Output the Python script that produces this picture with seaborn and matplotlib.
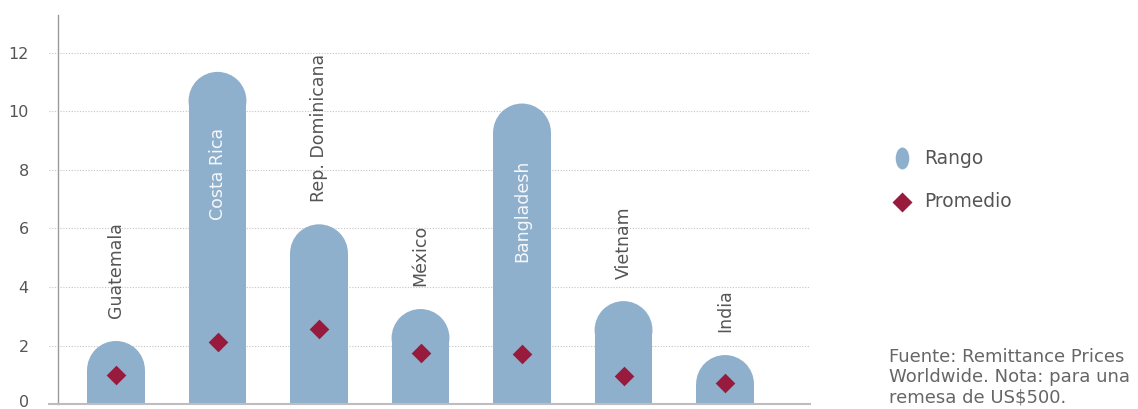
import matplotlib
matplotlib.use("Agg")
import matplotlib.pyplot as plt
import seaborn as sns
import pandas as pd
from matplotlib.patches import Ellipse
from matplotlib.lines import Line2D
from matplotlib.path import Path
from matplotlib.transforms import Affine2D, ScaledTranslation

# ---- data ----
paises = ["Guatemala", "Costa Rica", "Rep. Dominicana", "México", "Bangladesh", "Vietnam", "India"]
rango = [2.16, 11.34, 6.14, 3.25, 10.26, 3.52, 1.68]
promedio = [1.00, 2.13, 2.56, 1.76, 1.70, 0.96, 0.72]
yticks = [0, 2, 4, 6, 8, 10, 12]
leyenda = ["Rango", "Promedio"]
fuente = "Fuente: Remittance Prices\nWorldwide. Nota: para una\nremesa de US$500."

# ---- style ----
BAR = "#8fb0cc"
DIAM = "#981a3d"
TXT = "#555555"

sns.set_theme(style="white")
plt.rcParams["font.family"] = ["DejaVu Sans"]

df = pd.DataFrame({"pais": paises, "rango": rango, "promedio": promedio})

W, H = 1138, 409
fig = plt.figure(figsize=(W / 100, H / 100), dpi=100)
ax = fig.add_axes([49 / W, 1 - 404.3 / H, (810 - 49) / W, (404.3 - 15) / H])

sns.barplot(data=df, x="pais", y="rango", color=BAR, width=0.57, saturation=1,
            ax=ax, zorder=2, linewidth=0)
sns.stripplot(data=df, x="pais", y="promedio", jitter=False, marker="D", size=10,
              color=DIAM, linewidth=0, ax=ax, zorder=3)
ax.set_xlim(-0.66, 6.837)
ax.set_ylim(0, 13.28)

# rounded (pill) tops
xr = ax.get_xlim()
yr = ax.get_ylim()
px_x = ax.bbox.width / (xr[1] - xr[0])
px_y = ax.bbox.height / (yr[1] - yr[0])
for p in list(ax.patches):
    x0, w, h = p.get_x(), p.get_width(), p.get_height()
    r_px = w * px_x / 2
    ry = r_px / px_y
    p.set_height(h - ry)
    p.set_linewidth(0)
    ax.add_patch(Ellipse((x0 + w / 2, h - ry), w, 2 * ry, facecolor=BAR,
                         edgecolor="none", lw=0, zorder=2))

# country labels
for i, (name, v) in enumerate(zip(paises, rango)):
    if v > 9:
        ax.text(i, v - 1.9, name, rotation=90, ha="center", va="top",
                color="#f5f7fa", fontsize=12.5, zorder=4)
    else:
        ax.text(i, v + 0.77, name, rotation=90, ha="center", va="bottom",
                color=TXT, fontsize=12.5, zorder=4)

# axes styling
for s in ["top", "right"]:
    ax.spines[s].set_visible(False)
ax.spines["left"].set_position(("data", -0.571))
ax.spines["left"].set_color("#9a9a9a")
ax.spines["left"].set_linewidth(1)
ax.spines["bottom"].set_color("#bdbdbd")
ax.spines["bottom"].set_linewidth(1.5)
ax.set_yticks(yticks)
ax.yaxis.grid(True, linestyle=(0, (1, 1.5)), color="#c4c4c4", linewidth=0.8)
ax.set_axisbelow(True)
ax.tick_params(axis="y", length=0, pad=21, labelsize=11.5, labelcolor=TXT)
ax.tick_params(axis="x", length=0, labelbottom=False)
ax.set_xlabel("")
ax.set_ylabel("")
ax.set_xlim(-0.66, 6.837)
ax.set_ylim(0, 13.28)

# nudge the "0" label up slightly so it sits inside the canvas, as in the reference
lbl0 = ax.get_yticklabels()[0]
lbl0.set_transform(lbl0.get_transform() + ScaledTranslation(0, 3 / 72 * 0.72, fig.dpi_scale_trans))

# legend (drawn in figure coordinates)
oval = Path.unit_circle().transformed(Affine2D().scale(0.62, 1.0))
fig.add_artist(Line2D([902 / W], [1 - 158 / H], transform=fig.transFigure, marker=oval,
                      ms=15.8, color=BAR, mec="none", ls="none"))
fig.add_artist(Line2D([902 / W], [1 - 202 / H], transform=fig.transFigure, marker="D",
                      ms=10.5, color=DIAM, mec="none", ls="none"))
fig.text(924 / W, 1 - 158 / H, leyenda[0], va="center", ha="left", fontsize=13.4, color=TXT)
fig.text(924 / W, 1 - 202 / H, leyenda[1], va="center", ha="left", fontsize=13.4, color=TXT)

fig.text(889 / W, 1 - 348 / H, fuente, va="top", ha="left", fontsize=13.0,
         linespacing=1.17, color="#666666", parse_math=False)

fig.savefig("out.png", dpi=100)
